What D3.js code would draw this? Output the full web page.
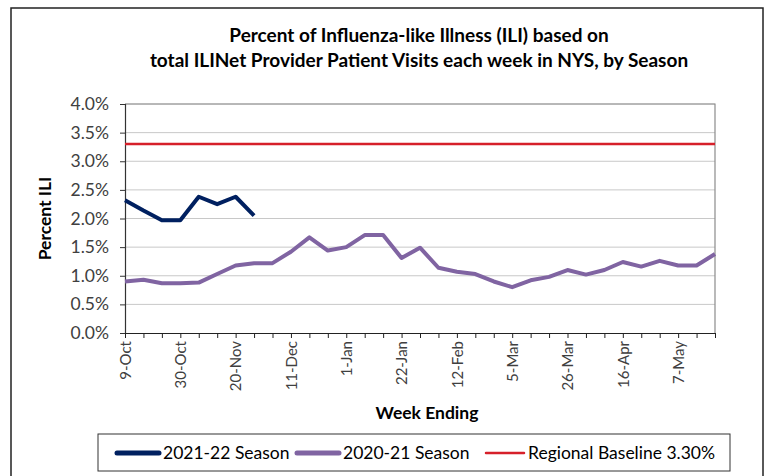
<!DOCTYPE html>
<meta charset="utf-8">
<style>
body { margin: 0; background: #fff; }
svg text { font-family: Lato, "Open Sans", sans-serif; }
</style>
<body>
<svg id="chart" width="770" height="476"></svg>
</body>
<script src="https://d3js.org/d3.v7.min.js"></script>
<script>
// Week ending dates, 9-Oct .. 21-May
var weeks = ["9-Oct", "16-Oct", "23-Oct", "30-Oct", "6-Nov", "13-Nov", "20-Nov", "27-Nov",
  "4-Dec", "11-Dec", "18-Dec", "25-Dec", "1-Jan", "8-Jan", "15-Jan", "22-Jan", "29-Jan",
  "5-Feb", "12-Feb", "19-Feb", "26-Feb", "5-Mar", "12-Mar", "19-Mar", "26-Mar", "2-Apr",
  "9-Apr", "16-Apr", "23-Apr", "30-Apr", "7-May", "14-May", "21-May"];

// Percent ILI, 2021-22 season (so far)
var season2122 = [2.32, 2.14, 1.97, 1.97, 2.38, 2.25, 2.38, 2.05];

// Percent ILI, 2020-21 season
var season2021 = [0.90, 0.93, 0.87, 0.87, 0.88, 1.03, 1.18, 1.22, 1.22, 1.42, 1.67, 1.44,
  1.50, 1.71, 1.71, 1.31, 1.49, 1.14, 1.07, 1.03, 0.90, 0.80, 0.92, 0.98, 1.10, 1.02,
  1.10, 1.24, 1.16, 1.26, 1.18, 1.18, 1.38];

var baseline = 3.30;
var yTicks = [0, 0.5, 1, 1.5, 2, 2.5, 3, 3.5, 4];

var svg = d3.select("#chart");
var pLeft = 125, pRight = 715, pTop = 104, pBottom = 333;

var x = d3.scalePoint().domain(weeks).range([pLeft, pRight]);
var y = d3.scaleLinear().domain([0, 4]).range([pBottom, pTop]);

// outer chart border
svg.append("rect").attr("x", 11).attr("y", 8).attr("width", 752).attr("height", 475)
  .attr("fill", "none").attr("stroke", "#222").attr("stroke-width", 1.5);

// title
var title = svg.append("text").attr("text-anchor", "middle")
  .attr("font-weight", "bold").attr("font-size", 19).attr("fill", "#000");
title.append("tspan").attr("x", 419).attr("y", 42).text("Percent of Influenza-like Illness (ILI) based on");
title.append("tspan").attr("x", 419).attr("y", 67).text("total ILINet Provider Patient Visits each week in NYS, by Season");

// gridlines
svg.append("g").selectAll("line").data(yTicks.slice(1)).join("line")
  .attr("x1", pLeft).attr("x2", pRight)
  .attr("y1", function(d) { return y(d); }).attr("y2", function(d) { return y(d); })
  .attr("stroke", "#c8c8c8").attr("stroke-width", 1);

// plot area border (top / right)
svg.append("path")
  .attr("d", "M" + pLeft + "," + pTop + "H" + pRight + "V" + pBottom)
  .attr("fill", "none").attr("stroke", "#8c8c8c").attr("stroke-width", 1.2);

// y axis
var yAxis = svg.append("g").attr("transform", "translate(" + pLeft + ",0)")
  .call(d3.axisLeft(y).tickValues(yTicks).tickSize(5).tickPadding(11)
    .tickFormat(function(d) { return d.toFixed(1) + "%"; }));
yAxis.select(".domain").attr("stroke", "#333").attr("stroke-width", 1.2);
yAxis.selectAll(".tick line").attr("stroke", "#333");
yAxis.selectAll("text").attr("font-family", "Lato, sans-serif").attr("font-size", 17.5).attr("fill", "#404040");

// x axis
var xAxis = svg.append("g").attr("transform", "translate(0," + pBottom + ")")
  .call(d3.axisBottom(x).tickSize(5).tickSizeOuter(0)
    .tickFormat(function(d, i) { return i % 3 === 0 ? d : ""; }));
xAxis.select(".domain").attr("stroke", "#222").attr("stroke-width", 1.2);
xAxis.selectAll(".tick line").attr("stroke", "#222");
xAxis.selectAll("text")
  .attr("font-family", "Lato, sans-serif").attr("font-size", 15).attr("fill", "#404040")
  .attr("text-anchor", "end").attr("dy", "0.35em")
  .attr("transform", "translate(0,8) rotate(-90)").attr("y", 0).attr("x", 0);

// axis titles
svg.append("text").attr("transform", "translate(51," + ((pTop + pBottom) / 2) + ") rotate(-90)")
  .attr("text-anchor", "middle").attr("font-weight", "bold").attr("font-size", 17.5)
  .text("Percent ILI");
svg.append("text").attr("x", 427).attr("y", 419).attr("text-anchor", "middle")
  .attr("font-weight", "bold").attr("font-size", 17.5).text("Week Ending");

// baseline
svg.append("line").attr("x1", pLeft).attr("x2", pRight)
  .attr("y1", y(baseline)).attr("y2", y(baseline))
  .attr("stroke", "#d6202a").attr("stroke-width", 2.5);

var line = d3.line().x(function(d, i) { return x(weeks[i]); }).y(function(d) { return y(d); });

svg.append("path").datum(season2021).attr("d", line)
  .attr("fill", "none").attr("stroke", "#8064a2").attr("stroke-width", 4)
  .attr("stroke-linejoin", "round");
svg.append("path").datum(season2122).attr("d", line)
  .attr("fill", "none").attr("stroke", "#002060").attr("stroke-width", 4)
  .attr("stroke-linejoin", "round");

// legend
var legendItems = [
  { label: "2021-22 Season", color: "#002060", width: 5, x: 117, len: 42 },
  { label: "2020-21 Season", color: "#8064a2", width: 5, x: 297, len: 42 },
  { label: "Regional Baseline 3.30%", color: "#d6202a", width: 2.5, x: 486, len: 38 }
];
svg.append("rect").attr("x", 98).attr("y", 434).attr("width", 632).attr("height", 37)
  .attr("fill", "#fff").attr("stroke", "#333").attr("stroke-width", 1);
var lg = svg.append("g").selectAll("g").data(legendItems).join("g")
  .attr("transform", function(d) { return "translate(" + d.x + ",453)"; });
lg.append("line").attr("x1", 0).attr("x2", function(d) { return d.len; })
  .attr("stroke", function(d) { return d.color; })
  .attr("stroke-width", function(d) { return d.width; }).attr("stroke-linecap", "round");
lg.append("text").attr("x", function(d) { return d.len + 4; }).attr("dy", "0.35em")
  .attr("font-size", 17.5).attr("fill", "#000").text(function(d) { return d.label; });
</script>
